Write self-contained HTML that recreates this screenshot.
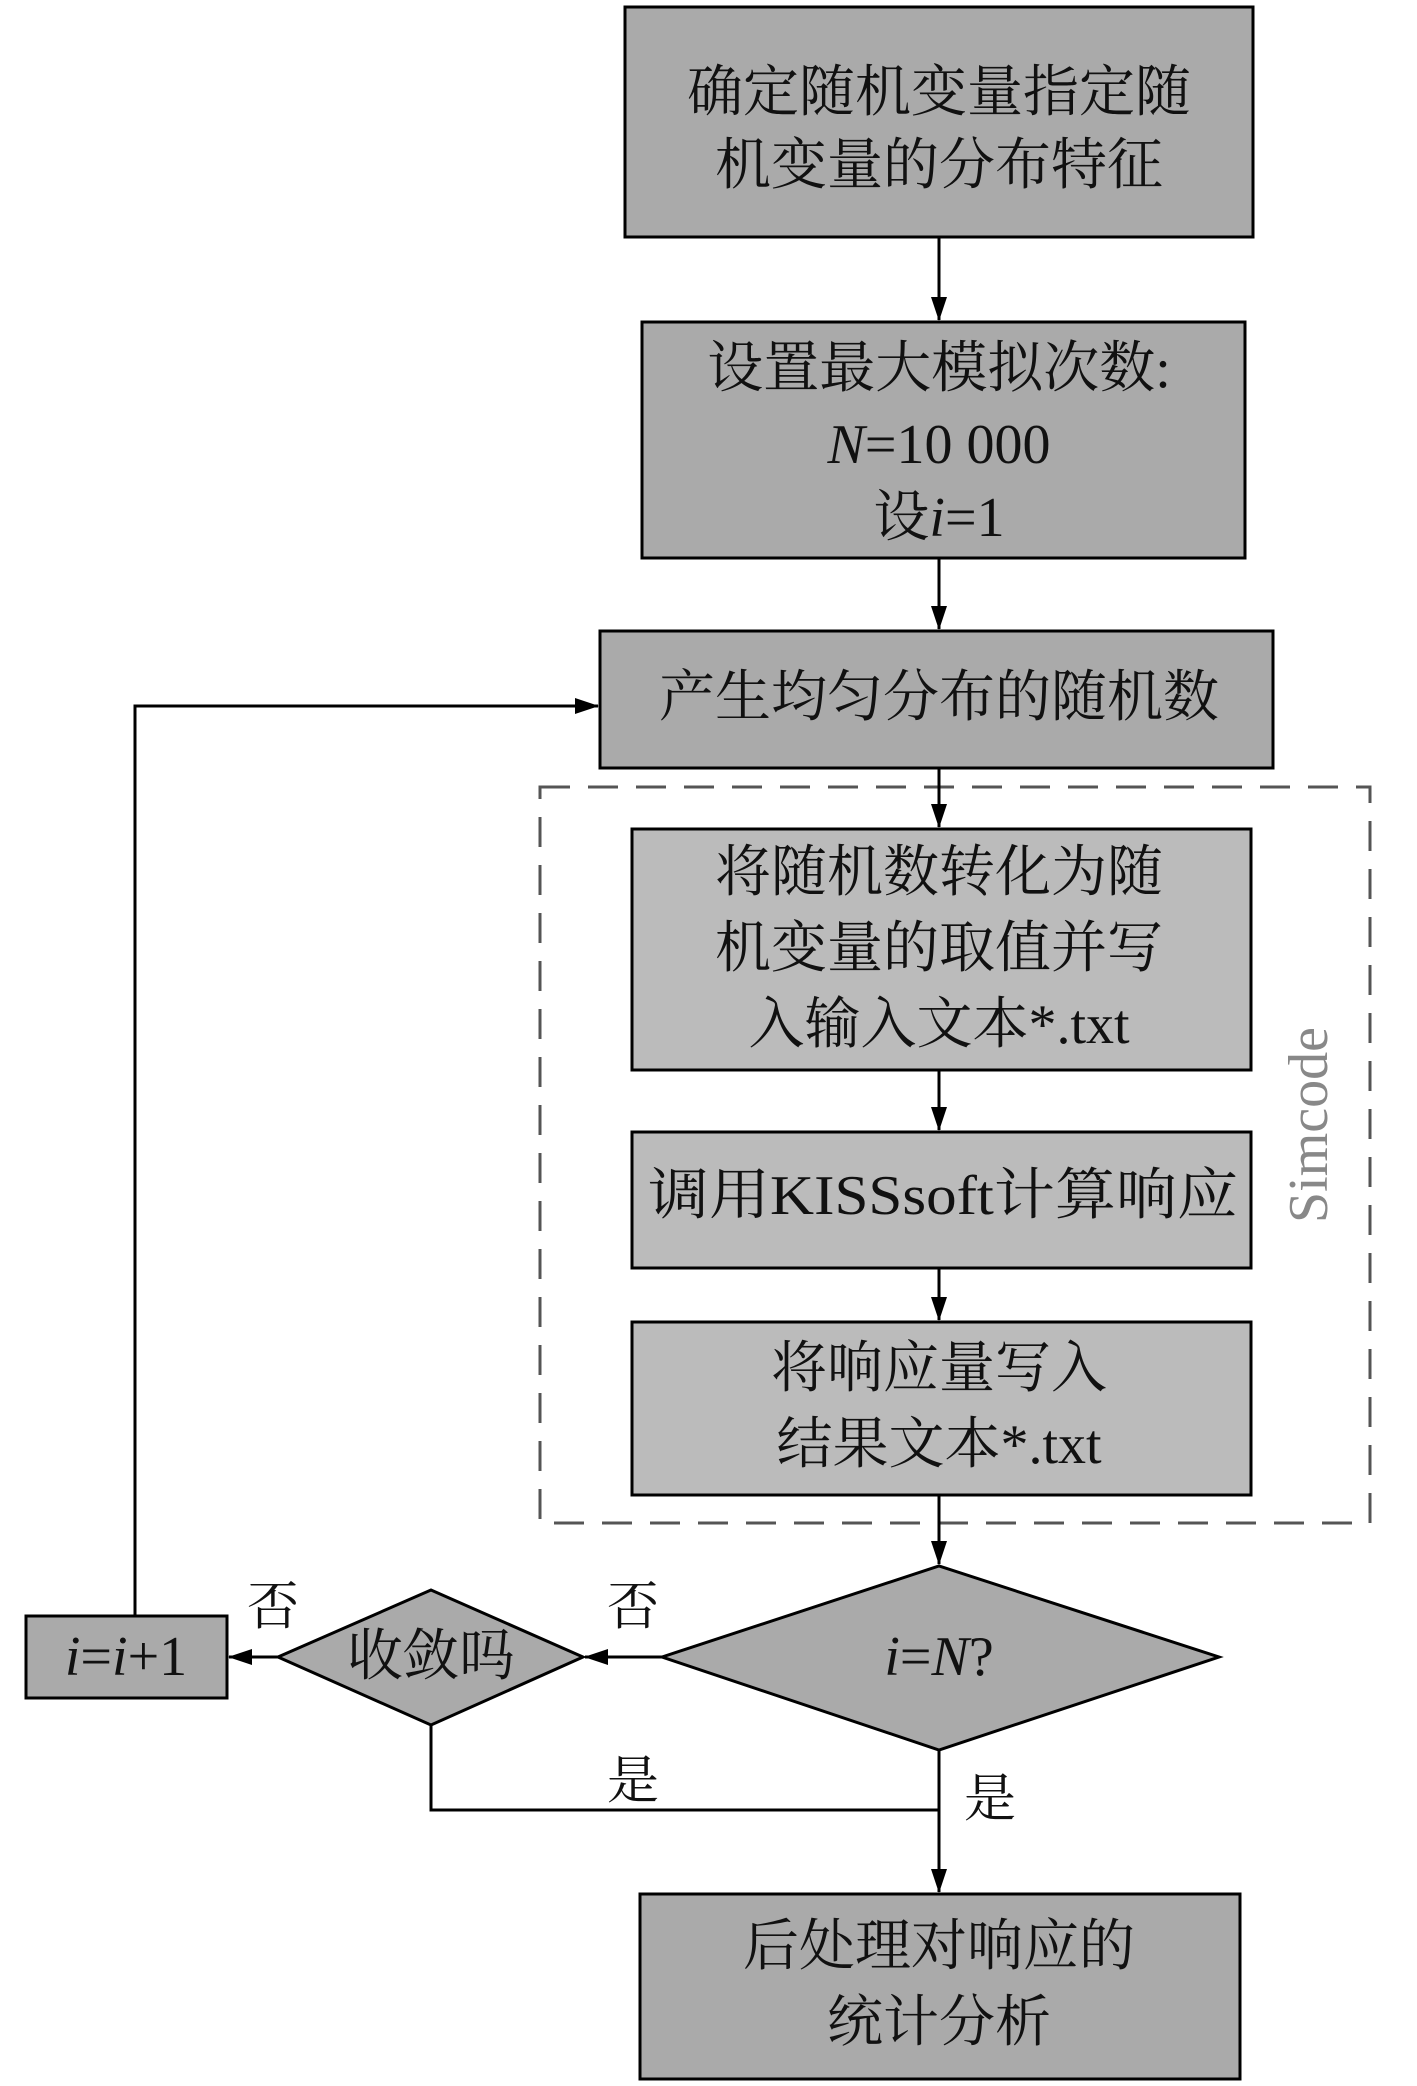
<!DOCTYPE html>
<html><head><meta charset="utf-8"><style>
html,body{margin:0;padding:0;background:#fff}
svg text{font-family:"Liberation Serif","Noto Serif CJK SC",serif;fill:#111}
</style></head><body>
<svg width="1417" height="2081" viewBox="0 0 1417 2081" xmlns="http://www.w3.org/2000/svg">
<defs><marker id="a" markerWidth="12" markerHeight="12" refX="11" refY="6" orient="auto" markerUnits="userSpaceOnUse"><path d="M0,0 L12,6 L0,12 z" fill="#000"/></marker>
<marker id="b" markerWidth="24" markerHeight="20" refX="23" refY="8" orient="auto" markerUnits="userSpaceOnUse"><path d="M0,0 L24,8 L0,16 z" fill="#000"/></marker></defs>
<g stroke="#000" stroke-width="3" fill="none">
<rect x="540" y="787" width="830" height="736" stroke="#555" stroke-dasharray="30,18"/>
<line x1="939" y1="237" x2="939" y2="320" marker-end="url(#b)"/>
<line x1="939" y1="558" x2="939" y2="629" marker-end="url(#b)"/>
<line x1="939" y1="768" x2="939" y2="827" marker-end="url(#b)"/>
<line x1="939" y1="1070" x2="939" y2="1130" marker-end="url(#b)"/>
<line x1="939" y1="1268" x2="939" y2="1320" marker-end="url(#b)"/>
<line x1="939" y1="1495" x2="939" y2="1564" marker-end="url(#b)"/>
<line x1="939" y1="1750" x2="939" y2="1892" marker-end="url(#b)"/>
<polyline points="431,1725 431,1810 939,1810"/>
<line x1="662" y1="1657" x2="585" y2="1657" marker-end="url(#b)"/>
<line x1="278" y1="1657" x2="229" y2="1657" marker-end="url(#b)"/>
<polyline points="135,1616 135,706 598,706" marker-end="url(#b)"/>
</g>
<g stroke="#000" stroke-width="3">
<rect x="625" y="7" width="628" height="230" fill="#aaaaaa"/>
<rect x="642" y="322" width="603" height="236" fill="#aaaaaa"/>
<rect x="600" y="631" width="673" height="137" fill="#aaaaaa"/>
<rect x="632" y="829" width="619" height="241" fill="#bbbbbb"/>
<rect x="632" y="1132" width="619" height="136" fill="#bbbbbb"/>
<rect x="632" y="1322" width="619" height="173" fill="#bbbbbb"/>
<polygon points="662,1657 939,1566 1219,1657 939,1750" fill="#aaaaaa"/>
<polygon points="278,1657 431,1590 583,1657 431,1725" fill="#aaaaaa"/>
<rect x="26" y="1616" width="201" height="82" fill="#aaaaaa"/>
<rect x="640" y="1894" width="600" height="185" fill="#aaaaaa"/>
</g>
<g font-size="56" text-anchor="middle" dominant-baseline="central">
<text x="939" y="93">确定随机变量指定随</text>
<text x="939" y="166">机变量的分布特征</text>
<text x="939" y="369">设置最大模拟次数:</text>
<text x="939" y="445"><tspan font-style="italic">N</tspan>=10 000</text>
<text x="939" y="518">设<tspan font-style="italic">i</tspan>=1</text>
<text x="939" y="698">产生均匀分布的随机数</text>
<text x="939" y="873">将随机数转化为随</text>
<text x="939" y="949">机变量的取值并写</text>
<text x="939" y="1025">入输入文本*.txt</text>
<text x="943" y="1196" textLength="590" lengthAdjust="spacingAndGlyphs">调用KISSsoft计算响应</text>
<text x="939" y="1369">将响应量写入</text>
<text x="939" y="1445">结果文本*.txt</text>
<text x="939" y="1657"><tspan font-style="italic">i</tspan>=<tspan font-style="italic">N</tspan>?</text>
<text x="431" y="1657">收敛吗</text>
<text x="126" y="1657"><tspan font-style="italic">i</tspan>=<tspan font-style="italic">i</tspan>+1</text>
<text x="939" y="1947">后处理对响应的</text>
<text x="939" y="2023">统计分析</text>
<text x="273" y="1608" font-size="52">否</text>
<text x="633" y="1608" font-size="52">否</text>
<text x="633" y="1782" font-size="52">是</text>
<text x="990" y="1800" font-size="52">是</text>
<text x="0" y="0" font-size="56" style="fill:#888" transform="translate(1309,1125) rotate(-90)">Simcode</text>
</g>
</svg>
</body></html>
